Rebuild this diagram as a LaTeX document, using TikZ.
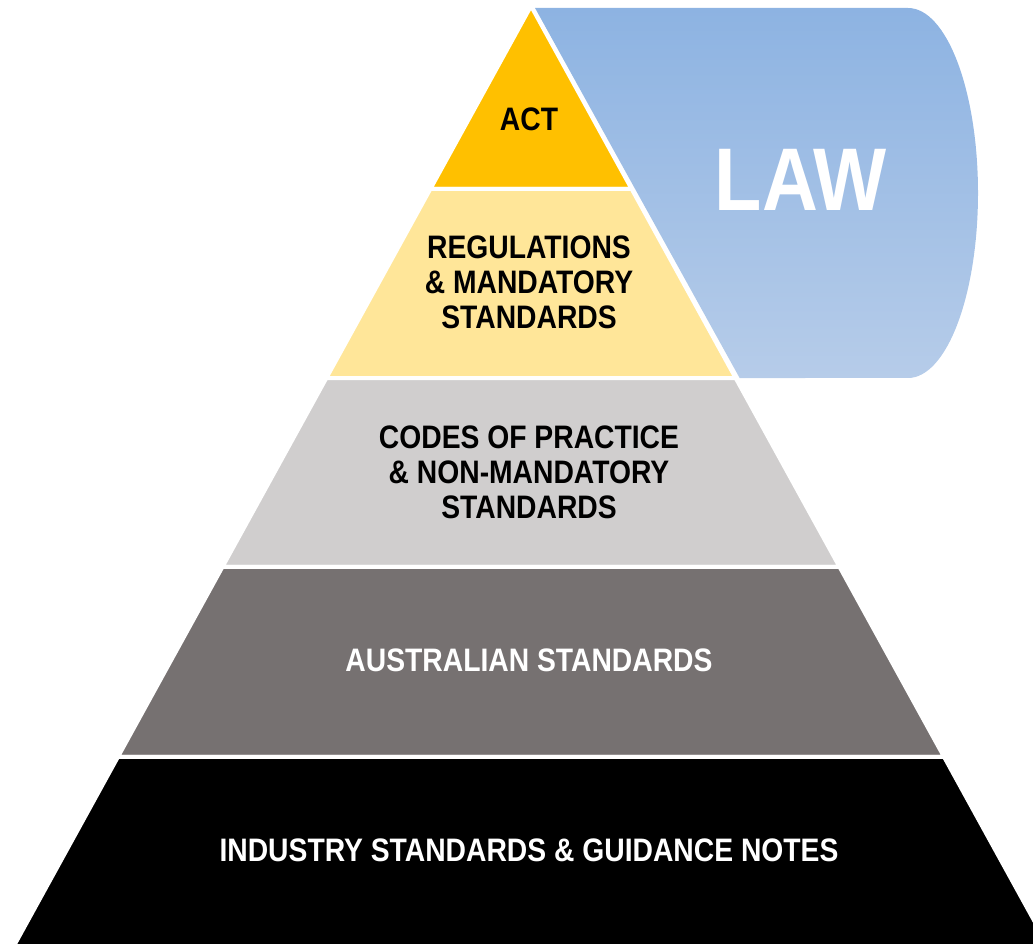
\documentclass[tikz,border=0pt]{standalone}
\usepackage{fontspec}
\setmainfont{Liberation Sans}[FakeStretch=0.87]
\usetikzlibrary{calc}

\definecolor{actgold}{HTML}{FFC000}
\definecolor{regsyellow}{HTML}{FFE699}
\definecolor{codesgrey}{HTML}{D0CECE}
\definecolor{ausgrey}{HTML}{767171}
\definecolor{lawtop}{HTML}{8DB3E2}
\definecolor{lawbottom}{HTML}{B6CCE9}

\begin{document}
\begin{tikzpicture}[x=1pt, y=1pt,
  tier/.style={draw=white, line width=4pt, line join=round},
  tierlabel/.style={font=\bfseries\fontsize{32.5}{35}\selectfont, align=center, inner sep=0pt},
  lawlabel/.style={font=\bfseries\fontsize{89}{89}\selectfont, text=white, inner sep=0pt}
]
\useasboundingbox (0,0) rectangle (1033,944);
\clip (0,0) rectangle (1033,944);

\coordinate (apex) at (531,938);
\coordinate (bl) at (15,0);
\coordinate (br) at (1047,0);

% tier edges
\coordinate (l1) at ($(apex)!0.195!(bl)$);
\coordinate (r1) at ($(apex)!0.195!(br)$);
\coordinate (l2) at ($(apex)!0.3966!(bl)$);
\coordinate (r2) at ($(apex)!0.3966!(br)$);
\coordinate (l3) at ($(apex)!0.598!(bl)$);
\coordinate (r3) at ($(apex)!0.598!(br)$);
\coordinate (l4) at ($(apex)!0.8006!(bl)$);
\coordinate (r4) at ($(apex)!0.8006!(br)$);

% law panel
\shade[top color=lawtop, bottom color=lawbottom]
  ($(apex)+(4,-2)$) -- (908,936)
  arc[start angle=90, end angle=-90, x radius=70, y radius=185]
  -- ($(r2)+(4,0)$) -- cycle;

\filldraw[tier, fill=actgold] (apex) -- (r1) -- (l1) -- cycle;
\filldraw[tier, fill=regsyellow] (l1) -- (r1) -- (r2) -- (l2) -- cycle;
\filldraw[tier, fill=codesgrey] (l2) -- (r2) -- (r3) -- (l3) -- cycle;
\filldraw[tier, fill=ausgrey] (l3) -- (r3) -- (r4) -- (l4) -- cycle;
\filldraw[tier, fill=black] (l4) -- (r4) -- ($(apex)!1.02!(br)$) -- ($(apex)!1.02!(bl)$) -- cycle;

\node[tierlabel] (act) at (529,825) {ACT};
\node[tierlabel] (regs) at (529,662) {REGULATIONS\\\& MANDATORY\\STANDARDS};
\node[tierlabel] (codes) at (529,472) {CODES OF PRACTICE\\\& NON-MANDATORY\\STANDARDS};
\node[tierlabel, text=white] (aus) at (529,284) {AUSTRALIAN STANDARDS};
\node[tierlabel, text=white] (industry) at (529,94) {INDUSTRY STANDARDS \& GUIDANCE NOTES};

\node[lawlabel] (law) at (801,764) {LAW};

\end{tikzpicture}
\end{document}
